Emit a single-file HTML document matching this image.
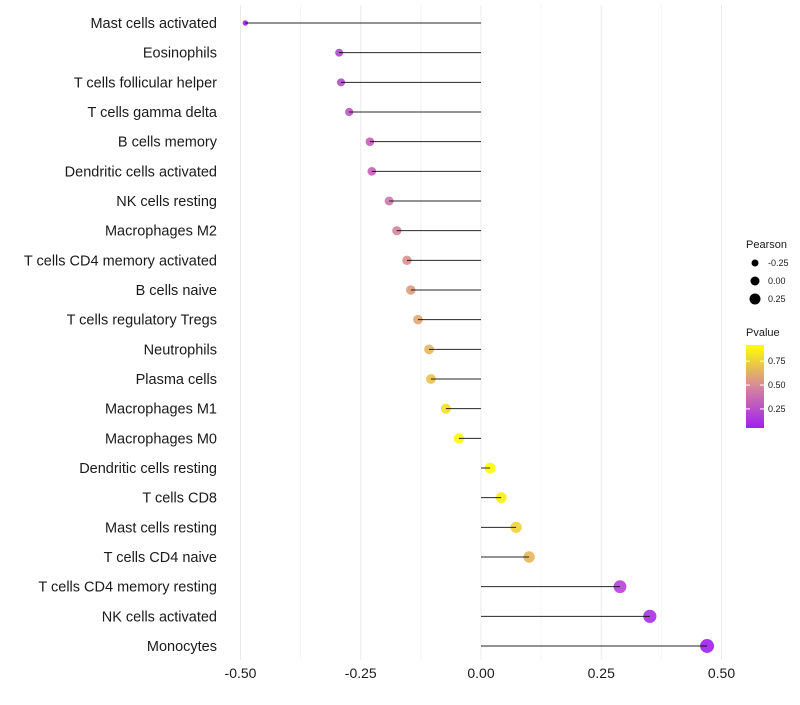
<!DOCTYPE html>
<html><head><meta charset="utf-8"><style>
body{margin:0;background:#fff;font-family:"Liberation Sans",sans-serif}
svg text{font-family:"Liberation Sans",sans-serif}
</style></head><body>
<svg id="chart" width="800" height="700"></svg>
<script>
const categories=["Mast cells activated","Eosinophils","T cells follicular helper","T cells gamma delta","B cells memory","Dendritic cells activated","NK cells resting","Macrophages M2","T cells CD4 memory activated","B cells naive","T cells regulatory  Tregs ","Neutrophils","Plasma cells","Macrophages M1","Macrophages M0","Dendritic cells resting","T cells CD8","Mast cells resting","T cells CD4 naive","T cells CD4 memory resting","NK cells activated","Monocytes"];
const pearson=[-0.49,-0.295,-0.291,-0.274,-0.231,-0.227,-0.191,-0.175,-0.154,-0.146,-0.131,-0.108,-0.104,-0.073,-0.046,0.019,0.042,0.073,0.10,0.289,0.351,0.47];
const pvalue=[0.03,0.2,0.22,0.27,0.32,0.33,0.42,0.47,0.52,0.56,0.6,0.66,0.7,0.8,0.9,0.93,0.86,0.76,0.66,0.2,0.12,0.04];
const xTicks=[-0.5,-0.25,0,0.25,0.5];
const xTickLabels=["-0.50","-0.25","0.00","0.25","0.50"];
const sizeLegend=[-0.25,0,0.25];
const colorTicks=[0.25,0.5,0.75];

const NS="http://www.w3.org/2000/svg";
const svg=document.getElementById('chart');
const x=v=>481+v*481;
const y=i=>23+i*(623/21);
const r=v=>Math.sqrt(Math.max(2.25,28.5+43*v));
const rLeg=v=>3.5+4*v+1;
const pTop=0.92,pBot=0.05;
function lerp(a,b,t){return a.map((c,k)=>Math.round(c+(b[k]-c)*t));}
function col(p){const t=Math.max(0,Math.min(1,(p-pBot)/(pTop-pBot)));
 const s=[[160,32,240],[214,135,155],[255,255,0]];
 const c=t<0.5?lerp(s[0],s[1],t*2):lerp(s[1],s[2],(t-0.5)*2);return `rgb(${c})`;}
function el(tag,a,p){const e=document.createElementNS(NS,tag);for(const k in a)e.setAttribute(k,a[k]);(p||svg).appendChild(e);return e;}

const grid=el('g',{});


for(let v=-0.5;v<=0.501;v+=0.125){
 el('line',{x1:x(v),x2:x(v),y1:5,y2:660,stroke:Math.abs((v*4)%1)<1e-6?'#ebebeb':'#f4f4f4','stroke-width':1},grid);
}
xTicks.forEach((v,i)=>{
 const t=el('text',{x:x(v),y:678,'text-anchor':'middle','font-size':14,fill:'#1a1a1a'});
 t.textContent=xTickLabels[i];
 
 
});
categories.forEach((c,i)=>{
 const t=el('text',{x:217,y:y(i)+5,'text-anchor':'end','font-size':14.5,fill:'#1a1a1a'});
 t.textContent=c;
 
 
 const d=el('circle',{cx:x(pearson[i]),cy:y(i),r:r(pearson[i]),fill:col(pvalue[i]),'fill-opacity':0.9});
 
 
 const l=el('line',{x1:x(0),x2:x(pearson[i]),y1:y(i),y2:y(i),stroke:'#000','stroke-width':1,'stroke-opacity':0.85});
 
 
});
const lt=el('text',{x:746,y:248,'font-size':11,fill:'#1a1a1a'});lt.textContent='Pearson';


sizeLegend.forEach((v,i)=>{
 const yy=263+i*18;
 const c=el('circle',{cx:755,cy:yy,r:rLeg(v),fill:'#000'});
 
 
 const t=el('text',{x:768,y:yy+3,'font-size':9,fill:'#1a1a1a'});t.textContent=v.toFixed(2);
 
 
});
const ct=el('text',{x:746,y:336,'font-size':11,fill:'#1a1a1a'});ct.textContent='Pvalue';


const defs=el('defs',{});
const g=el('linearGradient',{id:'pg',x1:0,y1:1,x2:0,y2:0},defs);
for(let k=0;k<=10;k++){el('stop',{offset:k/10,'stop-color':col(pBot+(pTop-pBot)*k/10)},g);}
const bar=el('rect',{x:746,y:345,width:18,height:83,fill:'url(#pg)'});


const cy=p=>428-(p-pBot)/(pTop-pBot)*83;
colorTicks.forEach(v=>{
 el('line',{x1:746,x2:750,y1:cy(v),y2:cy(v),stroke:'#fff'});
 el('line',{x1:760,x2:764,y1:cy(v),y2:cy(v),stroke:'#fff'});
 const t=el('text',{x:768,y:cy(v)+3,'font-size':9,fill:'#1a1a1a'});t.textContent=v.toFixed(2);
 
 
});
</script>
</body></html>
